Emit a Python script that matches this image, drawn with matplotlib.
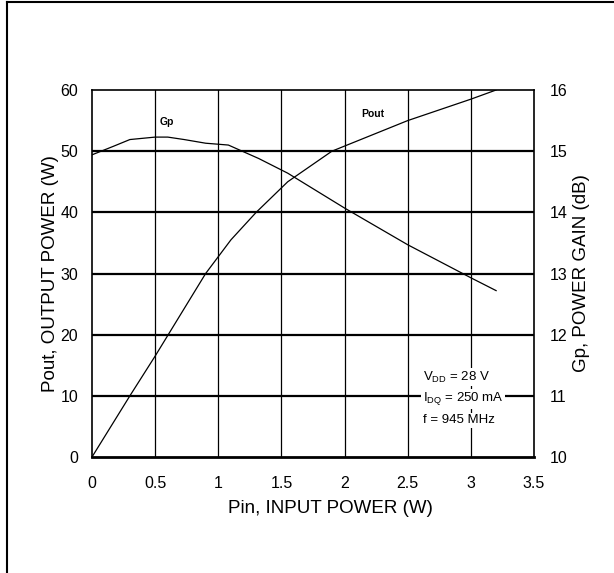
import matplotlib
matplotlib.use("Agg")
import matplotlib.pyplot as plt
from matplotlib.lines import Line2D

plt.rcParams['font.family'] = ['Liberation Sans', 'DejaVu Sans']
plt.rcParams['mathtext.default'] = 'regular'

# Pout vs Pin (left axis)
pin_pout = [0, 0.3, 0.5, 0.9, 1.1, 1.3, 1.55, 1.9, 2.5, 3.0, 3.2]
pout = [0, 10, 16.5, 30, 35.5, 40, 45, 50, 55, 58.5, 60]

# Gp vs Pin (right axis)
pin_gp = [0, 0.17, 0.3, 0.5, 0.6, 0.73, 0.9, 1.08, 1.32, 1.55, 2.0, 2.5, 3.0, 3.2]
gp = [14.94, 15.08, 15.19, 15.23, 15.23, 15.19, 15.13, 15.10, 14.88, 14.64, 14.07, 13.47, 12.93, 12.72]

x_ticks = [0, 0.5, 1, 1.5, 2, 2.5, 3, 3.5]
x_labels = ['0', '0.5', '1', '1.5', '2', '2.5', '3', '3.5']
y_ticks = [0, 10, 20, 30, 40, 50, 60]
gp_ticks = [10, 11, 12, 13, 14, 15, 16]

fig = plt.figure(figsize=(6.14, 5.73), dpi=100)
ax = fig.add_axes([92 / 614, 1 - 457 / 573, (534 - 92) / 614, (457 - 90) / 573])

# grid
for x in x_ticks[1:-1]:
  ax.axvline(x, color='black', lw=0.9, zorder=1)
for y in y_ticks[1:-1]:
  ax.axhline(y, color='black', lw=1.6, zorder=1)

ax.plot(pin_pout, pout, color='black', lw=0.9, zorder=3)
ax.set_xlim(0, 3.5)
ax.set_ylim(0, 60)
ax.set_xticks(x_ticks)
ax.set_xticklabels(x_labels)
ax.set_yticks(y_ticks)
ax.tick_params(axis='x', length=0, labelsize=11.5, pad=14)
ax.tick_params(axis='y', length=0, labelsize=11.5, pad=10)
for s in ax.spines.values():
  s.set_linewidth(1.2)
ax.spines['bottom'].set_linewidth(2)
ax.set_xlabel('Pin, INPUT POWER (W)', fontsize=13.5, labelpad=6, x=0.54)
ax.set_ylabel('Pout, OUTPUT POWER (W)', fontsize=13.5, labelpad=1)

ax2 = ax.twinx()
ax2.plot(pin_gp, gp, color='black', lw=0.9, zorder=3)
ax2.set_ylim(10, 16)
ax2.set_yticks(gp_ticks)
ax2.tick_params(length=0, labelsize=11.5, pad=11)
ax2.set_ylabel('Gp, POWER GAIN (dB)', fontsize=13.5, labelpad=4)
for s in ax2.spines.values():
  s.set_visible(False)

ax2.text(0.59, 15.47, 'Gp', fontsize=7.5, fontweight='bold', ha='center', va='center')
ax2.text(2.22, 15.6, 'Pout', fontsize=7.5, fontweight='bold', ha='center', va='center')

box = dict(facecolor='white', edgecolor='none', pad=1)
ax2.text(2.62, 11.3, 'V$_{DD}$ = 28 V', fontsize=9.5, ha='left', va='center', bbox=box, zorder=5)
ax2.text(2.62, 10.95, 'I$_{DQ}$ = 250 mA', fontsize=9.5, ha='left', va='center', bbox=box, zorder=5)
ax2.text(2.62, 10.6, 'f = 945 MHz', fontsize=9.5, ha='left', va='center', bbox=box, zorder=5)

# outer frame (left and top edges)
fig.add_artist(Line2D([7 / 614, 7 / 614], [0, 1 - 2 / 573], transform=fig.transFigure, color='black', lw=1.5))
fig.add_artist(Line2D([7 / 614, 1], [1 - 2 / 573, 1 - 2 / 573], transform=fig.transFigure, color='black', lw=1.5))

fig.savefig('out.png', dpi=100)
